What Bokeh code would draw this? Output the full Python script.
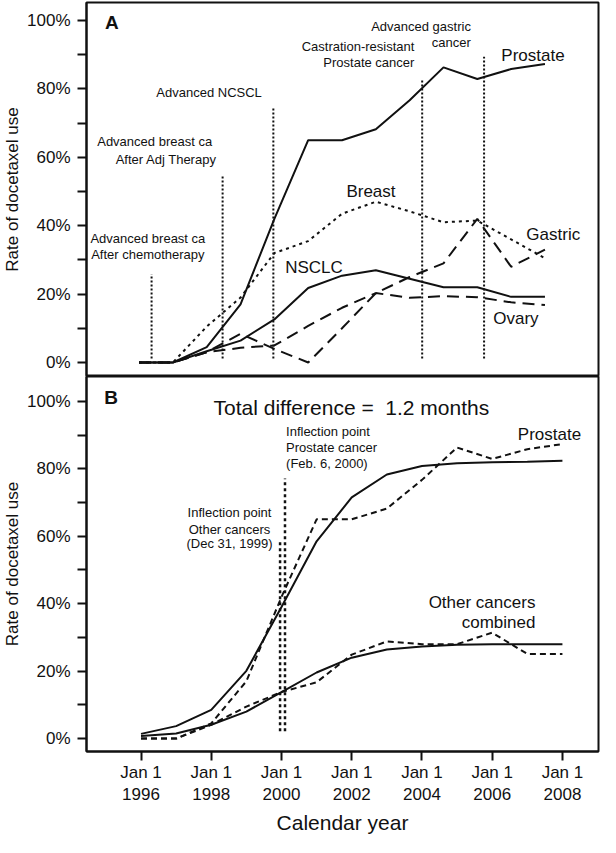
from bokeh.plotting import figure
from bokeh.layouts import column
from bokeh.models import Range1d, FixedTicker
from bokeh.core.properties import value
from bokeh.embed import file_html
from bokeh.resources import INLINE

# ---------------- data ----------------
years = [1996, 1997, 1998, 1999, 2000, 2001, 2002, 2003, 2004, 2005, 2006, 2007, 2008]

# Panel A: observed rate of docetaxel use (%)
prostate_obs = [0, 0, 4.5, 17, 42, 65, 65, 68.2, 76.7, 86.3, 82.9, 85.8, 87.3]
breast = [0, 0, 10.5, 19, 32, 35.5, 43.5, 47, 44.2, 41, 41.5, 36, 30.5]
nsclc = [0, 0, 3.3, 6.4, 12.6, 21.8, 25.4, 27, 24.5, 22, 22, 19.2, 19.2]
gastric = [0, 0, 3, 8.4, 4, 0, 10, 20.3, 25, 29, 42, 28, 33]
ovary = [0, 0, 3, 4.3, 5, 10.7, 16, 20.3, 18.9, 19.4, 19.1, 17.6, 16.8]

approval_dates = [1996.37, 1998.47, 1999.97, 2004.37, 2006.2]
approval_low = [1.2, 1.2, 1.2, 1.2, 1.2]
approval_high = [25.8, 55, 74.3, 83, 89.4]

# Panel B: fitted curves vs observed
prostate_fit = [1.4, 3.7, 8.5, 20.1, 39, 58.5, 71.5, 78.3, 80.8, 81.6, 81.9, 82.1, 82.4]
other_fit = [0.8, 1.5, 4.1, 8, 13.8, 19.6, 24, 26.4, 27.3, 27.8, 28, 28, 28]
other_obs = [0, 0, 4.1, 9.5, 13.8, 16.7, 24.9, 28.8, 28, 28, 31.4, 25.1, 25.1]

inflection_dates = [1999.96, 2000.10]
inflection_low = [2.2, 2.2]
inflection_high = [58.7, 77.1]

y_ticks = [0, 20, 40, 60, 80, 100]
y_tick_labels = ["0%", "20%", "40%", "60%", "80%", "100%"]
y_minor = [10, 30, 50, 70, 90]
x_ticks = [1996, 1998, 2000, 2002, 2004, 2006, 2008]
x_tick_labels = ["Jan 1\n1996", "Jan 1\n1998", "Jan 1\n2000", "Jan 1\n2002",
                 "Jan 1\n2004", "Jan 1\n2006", "Jan 1\n2008"]

FONT = "Liberation Sans"
INK = "#111111"


def style(p):
    p.outline_line_color = INK
    p.outline_line_width = 2
    p.outline_line_alpha = 1
    p.xgrid.grid_line_color = None
    p.ygrid.grid_line_color = None
    p.background_fill_color = "white"
    p.border_fill_color = "white"
    ya = p.yaxis[0]
    ya.ticker = FixedTicker(ticks=y_ticks, minor_ticks=y_minor)
    ya.major_label_overrides = {t: l for t, l in zip(y_ticks, y_tick_labels)}
    ya.major_tick_out = 9
    ya.major_tick_in = 0
    ya.minor_tick_out = 9
    ya.minor_tick_in = 0
    ya.major_tick_line_width = 2
    ya.minor_tick_line_width = 2
    ya.major_tick_line_color = INK
    ya.minor_tick_line_color = INK
    ya.axis_line_width = 2
    ya.axis_line_color = INK
    ya.major_label_text_font = FONT
    ya.major_label_text_font_size = "17px"
    ya.major_label_text_color = INK
    ya.major_label_standoff = 7
    ya.axis_label = "Rate of docetaxel use"
    ya.axis_label_text_font = FONT
    ya.axis_label_text_font_size = "17px"
    ya.axis_label_text_font_style = "normal"
    ya.axis_label_text_color = INK
    ya.axis_label_standoff = 2


def texts(p, xs, ys, labels, size, align, bold=False):
    p.text(x=xs, y=ys, text=labels,
           text_font=value(FONT), text_font_size=value(size),
           text_align=value(align), text_baseline=value("middle"),
           text_color=INK, text_font_style=value("bold" if bold else "normal"))


# ---------------- Panel A ----------------
pA = figure(width=600, height=376, x_range=Range1d(1994.446, 2009.583),
            y_range=Range1d(-4.09, 105.26), output_backend="svg",
            toolbar_location=None, x_axis_location=None,
            min_border_left=82, min_border_right=2, min_border_top=2, min_border_bottom=0)
style(pA)

pA.segment(x0=approval_dates, y0=approval_low, x1=approval_dates, y1=approval_high,
           line_color=INK, line_width=2, line_dash="2 2")
pA.line(years, ovary, line_color=INK, line_width=2, line_dash="12 7")
pA.line(years, gastric, line_color=INK, line_width=2, line_dash="12 7")
pA.line(years, breast, line_color=INK, line_width=2, line_dash="3 4")
pA.line(years, nsclc, line_color=INK, line_width=2)
pA.line(years, prostate_obs, line_color=INK, line_width=2)

texts(pA, [1996.26, 1996.26, 1998.07], [36.4, 31.5, 78.9],
      ["Advanced breast ca", "After chemotherapy", "Advanced NCSCL"], "13px", "center")
texts(pA, [1998.16, 1998.30, 2004.14, 2004.14, 2005.81, 2005.81],
      [64.5, 59.5, 92.5, 87.6, 98.3, 93.6],
      ["Advanced breast ca", "After Adj Therapy", "Castration-resistant",
       "Prostate cancer", "Advanced gastric", "cancer"], "13px", "right")
texts(pA, [2006.71, 2002.13, 2007.45, 2000.32, 2006.47], [89.9, 50, 37.3, 27.7, 13],
      ["Prostate", "Breast", "Gastric", "NSCLC", "Ovary"], "17px", "left")
texts(pA, [1994.99], [99.3], ["A"], "19px", "left", bold=True)

# ---------------- Panel B ----------------
pB = figure(width=600, height=461, x_range=Range1d(1994.448, 2009.027),
            y_range=Range1d(-3.82, 107.35), output_backend="svg",
            toolbar_location=None,
            min_border_left=82, min_border_right=2, min_border_top=0, min_border_bottom=83)
style(pB)
xa = pB.xaxis[0]
xa.ticker = FixedTicker(ticks=x_ticks, minor_ticks=[])
xa.major_label_overrides = {t: l for t, l in zip(x_ticks, x_tick_labels)}
xa.major_tick_out = 9
xa.major_tick_in = 0
xa.major_tick_line_width = 2
xa.major_tick_line_color = INK
xa.axis_line_width = 2
xa.axis_line_color = INK
xa.major_label_text_font = FONT
xa.major_label_text_font_size = "17px"
xa.major_label_text_color = INK
xa.major_label_standoff = 2
xa.axis_label = "Calendar year"
xa.axis_label_text_font = FONT
xa.axis_label_text_font_size = "21px"
xa.axis_label_text_font_style = "normal"
xa.axis_label_text_color = INK
xa.axis_label_standoff = 4

pB.segment(x0=inflection_dates, y0=inflection_low, x1=inflection_dates, y1=inflection_high,
           line_color=INK, line_width=2.5, line_dash="3 3")
pB.line(years, prostate_fit, line_color=INK, line_width=2)
pB.line(years, other_fit, line_color=INK, line_width=2)
pB.line(years, prostate_obs, line_color=INK, line_width=2, line_dash="6 4")
pB.line(years, other_obs, line_color=INK, line_width=2, line_dash="6 4")

texts(pB, [2001.99], [98.3], ["Total difference =\u00a0 1.2 months"], "21px", "center")
texts(pB, [1998.52, 1998.52, 1998.52], [67.0, 62.1, 57.8],
      ["Inflection point", "Other cancers", "(Dec 31, 1999)"], "13px", "center")
texts(pB, [2000.13, 2000.13, 2000.13], [91.0, 86.4, 81.7],
      ["Inflection point", "Prostate cancer", "(Feb. 6, 2000)"], "13px", "left")
texts(pB, [2006.73], [90.1], ["Prostate"], "17px", "left")
texts(pB, [2007.23, 2007.23], [40.3, 34.5], ["Other cancers", "combined"], "17px", "right")
texts(pB, [1994.95], [101.2], ["B"], "19px", "left", bold=True)

layout = column(pA, pB, spacing=0)
open("out.html", "w").write(file_html(layout, INLINE))
